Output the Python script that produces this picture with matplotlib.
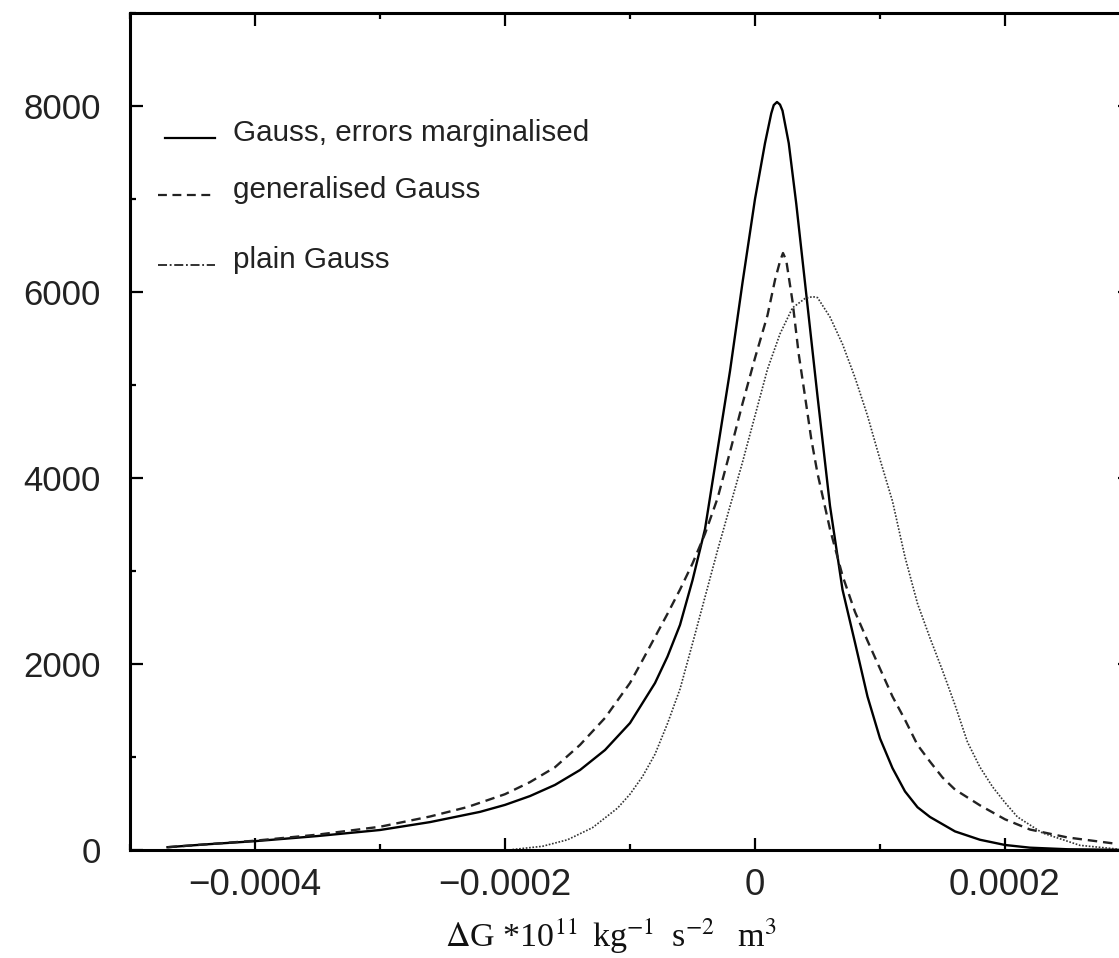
import matplotlib
matplotlib.use("Agg")
import matplotlib.pyplot as plt
from matplotlib.lines import Line2D
from matplotlib.ticker import MultipleLocator

# ---- data ----
marg_x = [-0.00047, -0.00044, -0.00040, -0.00035, -0.00030, -0.00026, -0.00022, -0.00020,
          -0.00018, -0.00016, -0.00014, -0.00012, -0.00010, -0.00008, -0.00007, -0.00006,
          -0.00005, -0.00004, -0.00003, -0.00002, -0.00001, 0.0, 0.000008, 0.000013,
          0.000015, 0.0000176, 0.00002, 0.000022, 0.000027, 0.000033, 0.00004, 0.00005,
          0.00006, 0.00007, 0.00008, 0.00009, 0.00010, 0.00011, 0.00012, 0.00013,
          0.00014, 0.00016, 0.00018, 0.00020, 0.00022, 0.00025, 0.00029]
marg_y = [30, 60, 95, 150, 215, 300, 410, 485,
          580, 700, 860, 1075, 1365, 1795, 2080, 2420,
          2900, 3450, 4300, 5150, 6100, 7000, 7600, 7920,
          8010, 8043, 8015, 7950, 7600, 6950, 6100, 4880,
          3700, 2800, 2230, 1650, 1200, 880, 630, 460,
          355, 200, 110, 54, 25, 8, 2]

gen_x = [-0.00047, -0.00040, -0.00035, -0.00030, -0.00026, -0.00023, -0.00020, -0.00018,
         -0.00016, -0.00014, -0.00012, -0.00010, -0.00009, -0.00008, -0.00007, -0.00006,
         -0.00005, -0.00004, -0.00003, -0.00002, -0.00001, 0.0, 0.00001, 0.000016,
         0.00002, 0.0000224, 0.000025, 0.00003, 0.000035, 0.00004, 0.000045, 0.00005,
         0.00006, 0.00007, 0.00008, 0.00009, 0.00010, 0.00011, 0.00012, 0.00013,
         0.00014, 0.00015, 0.00016, 0.00018, 0.00020, 0.00022, 0.00025, 0.00029]
gen_y = [30, 100, 165, 250, 360, 462, 600, 730,
         890, 1130, 1420, 1796, 2040, 2290, 2540, 2800,
         3080, 3400, 3780, 4280, 4800, 5290, 5750, 6129,
         6330, 6419, 6340, 5900, 5330, 4880, 4420, 4050,
         3450, 2950, 2560, 2250, 1950, 1650, 1400, 1130,
         950, 780, 650, 480, 330, 220, 135, 65]

plain_x = [-0.000194, -0.00017, -0.00015, -0.00013, -0.00011, -0.00010, -0.00009, -0.00008,
           -0.00007, -0.00006, -0.00005, -0.00004, -0.00003, -0.00001, 0.00001, 0.00002,
           0.00003, 0.00004, 0.000046, 0.00005, 0.00006, 0.00007, 0.00008, 0.00009,
           0.00010, 0.00011, 0.00012, 0.00013, 0.00014, 0.00015, 0.00016, 0.00017,
           0.00018, 0.00019, 0.00020, 0.00021, 0.00023, 0.00026, 0.00029]
plain_y = [5, 40, 110, 240, 450, 600, 790, 1030,
           1360, 1730, 2220, 2720, 3220, 4170, 5170, 5550,
           5830, 5930, 5950, 5940, 5731, 5440, 5080, 4670,
           4200, 3750, 3150, 2650, 2280, 1930, 1560, 1160,
           890, 680, 510, 355, 183, 50, 10]

labels = ["Gauss, errors marginalised", "generalised Gauss", "plain Gauss"]
x_ticks = [-0.0004, -0.0002, 0, 0.0002]
x_ticklabels = ["\u22120.0004", "\u22120.0002", "0", "0.0002"]
y_ticks = [0, 2000, 4000, 6000, 8000]

# ---- figure ----
W, H = 1119, 958
fig = plt.figure(figsize=(W / 100, H / 100), dpi=100)
left, right, bottom, top = 130, 1130, 850, 13
ax = fig.add_axes([left / W, (H - bottom) / H, (right - left) / W, (bottom - top) / H])

ax.plot(marg_x, marg_y, color="black", lw=1.7, linestyle="-")
ax.plot(gen_x, gen_y, color="#222222", lw=1.7, linestyle=(0, (4, 2.5)))
ax.plot(plain_x, plain_y, color="#333333", lw=1.2, linestyle=(0, (1, 1)))

ax.set_xlim(-0.0005, 0.0003)
ax.set_ylim(0, 9000)

ax.set_xticks(x_ticks)
ax.set_xticklabels(x_ticklabels)
ax.set_yticks(y_ticks)
ax.xaxis.set_minor_locator(MultipleLocator(0.0001))
ax.yaxis.set_minor_locator(MultipleLocator(1000))
ax.tick_params(which="both", direction="in", top=True, right=True, width=1.6, color="black")
ax.tick_params(which="major", length=9)
ax.tick_params(which="minor", length=4)
ax.tick_params(axis="x", which="major", labelsize=26.5, pad=13)
ax.tick_params(axis="y", which="major", labelsize=25, pad=21)
for lab in ax.get_xticklabels() + ax.get_yticklabels():
    lab.set_fontfamily("Liberation Sans")
    lab.set_color("#222222")
for s in ax.spines.values():
    s.set_linewidth(2.2)

# legend drawn manually (axes-fraction positions)
text_y = [0.857, 0.789, 0.705]
line_y = [0.851, 0.782, 0.699]
styles = [dict(color="black", lw=1.6, linestyle="-"),
          dict(color="#222222", lw=1.6, linestyle=(0, (4, 2.5))),
          dict(color="#222222", lw=1.3, linestyle=(0, (5, 1.5, 1, 1.5)))]
starts = [0.035, 0.028, 0.028]
for ty, ly, lab, st, x0 in zip(text_y, line_y, labels, styles, starts):
    ax.add_line(Line2D([x0, 0.085], [ly, ly], transform=ax.transAxes, **st))
    ax.text(0.103, ty, lab, transform=ax.transAxes, fontsize=21.3,
            family="Liberation Sans", va="center", ha="left", color="#222222")

plt.rcParams["mathtext.fontset"] = "stix"
fig.text(445 / W, 1 - 936 / H,
         r"$\Delta$G *10$^{11}\,$ kg$^{-1}\;$ s$^{-2}\;\;$ m$^{3}$",
         fontsize=24.5, family="Liberation Serif", ha="left", va="center", color="#111111")

fig.savefig("out.png", dpi=100)
